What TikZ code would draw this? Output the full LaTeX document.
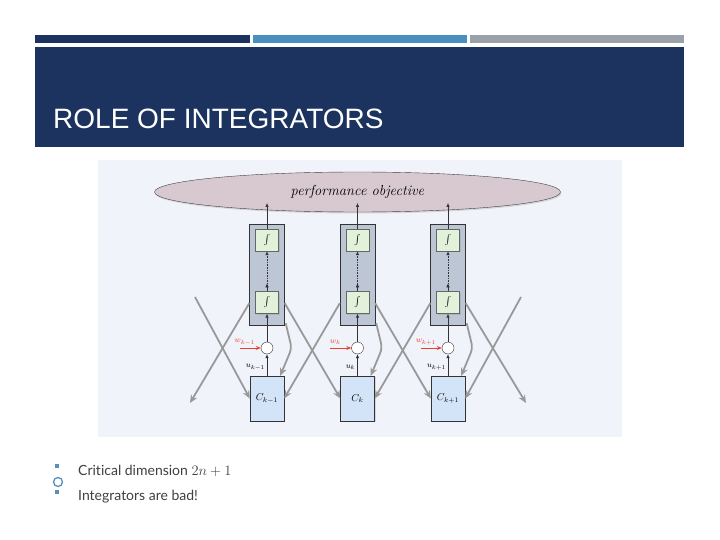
\documentclass[tikz,border=0pt]{standalone}
\usepackage{fontspec}
\newfontfamily\titlefont{Liberation Sans}
\newfontfamily\bodyfont[Ligatures=NoCommon]{Lato}
\usetikzlibrary{shapes.geometric,arrows.meta,positioning,shadows}

\definecolor{navy}{HTML}{1C3360}
\definecolor{barblue}{HTML}{4A8FBF}
\definecolor{bargrey}{HTML}{9BA1A9}
\definecolor{panel}{HTML}{F1F3FB}
\definecolor{perfpink}{HTML}{D8C9D0}
\definecolor{colgrey}{HTML}{BDC6D4}
\definecolor{intgreen}{HTML}{E2F1DA}
\definecolor{ctrlblue}{HTML}{D4E4F8}
\definecolor{linkgrey}{HTML}{999999}
\definecolor{distred}{HTML}{E8402E}
\definecolor{bullet}{HTML}{5A8FBB}
\definecolor{bodytext}{HTML}{404040}

\tikzset{
	colbox/.style={draw=black!80,fill=colgrey,minimum width=35pt,minimum height=101pt,inner sep=0pt},
	intbox/.style={draw=black!60,fill=intgreen,minimum width=23pt,minimum height=22pt,inner sep=0pt,font=\large,
		drop shadow={opacity=0.25,shadow xshift=1pt,shadow yshift=-1pt}},
	sumnode/.style={circle,draw=black!80,fill=white,minimum size=12pt,inner sep=0pt},
	ctrlbox/.style={draw=black!80,fill=ctrlblue,minimum width=34pt,minimum height=45pt,inner sep=0pt,
		drop shadow={opacity=0.25,shadow xshift=1pt,shadow yshift=-1pt}},
	link/.style={draw=linkgrey,line width=1.8pt,-{Stealth[length=8pt,width=7pt]}},
	sig/.style={draw=black!80,line width=0.6pt,-{Latex[length=4pt,width=3.5pt]}},
	dist/.style={draw=distred,line width=0.8pt,-{Stealth[length=5pt,width=4pt]}}
}

\begin{document}
\begin{tikzpicture}[x=1pt,y=-1pt]
	\useasboundingbox (0,0) rectangle (720,540);
	\fill[white] (0,0) rectangle (720,540);
	\fill[navy] (35,35) rectangle (250,43);
	\fill[barblue] (253,35) rectangle (467,43);
	\fill[bargrey] (470,35) rectangle (684,43);
	\fill[navy] (35,47) rectangle (684,147);
	\node[anchor=base west,text=white,inner sep=0pt,font=\titlefont\fontsize{28}{32}\selectfont] (title) at (53,129) {ROLE OF INTEGRATORS};

	\fill[panel] (98,160) rectangle (622,437);
	\node[ellipse,draw=black!75,fill=perfpink,minimum width=406pt,minimum height=40pt,
		drop shadow={opacity=0.25,shadow xshift=1pt,shadow yshift=-1.5pt},
		font=\fontsize{14.5}{16}\selectfont] (perf) at (357.5,192) {\textit{performance objective}};

	\foreach \cx/\i/\k in {267/1/k-1, 357.5/2/k, 448/3/k+1} {
		\node[colbox] (col\i) at (\cx,274.5) {};
		\node[intbox] (it\i) at (\cx,240) {$\int$};
		\node[intbox] (ib\i) at (\cx,302.5) {$\int$};
		\node[sumnode] (sum\i) at (\cx,348) {};
		\node[ctrlbox] (ctrl\i) at (\cx,398.5) {$C_{\k}$};
		\coordinate (po\i) at (\cx,203);
		\coordinate (outL\i) at ([yshift=22pt]col\i.south west);
		\coordinate (outR\i) at ([yshift=22pt]col\i.south east);
		\node[text=distred,font=\footnotesize,inner sep=0pt] (w\i) at ([xshift=-16pt,yshift=6pt]sum\i.west) {$w_{\k}$};
		\node[anchor=east,font=\footnotesize,inner sep=1pt] (u\i) at ([xshift=-1pt,yshift=-13pt]sum\i.south) {$u_{\k}$};
	}

	\coordinate (farL) at (190,403);
	\coordinate (farR) at (526,403);
	\coordinate (inL) at (195,297);
	\coordinate (inR) at (521,297);

	\foreach \i in {1,2,3} {
		\draw[sig] (it\i.north) -- (po\i);
		\draw[sig] (ib\i.north) -- ++(0,-8) coordinate (mid\i);
		\draw[sig,densely dotted] (mid\i) -- (it\i.south);
		\draw[sig] (sum\i.north) -- (ib\i.south);
		\draw[sig] (ctrl\i.north) -- (sum\i.south);
		\draw[dist] ([xshift=-21pt]sum\i.west) -- (sum\i.west);
		\draw[link,rounded corners=5pt] ([xshift=1pt,yshift=2pt]col\i.south east) -- ++(6,25) -- ([xshift=-4pt]ctrl\i.north east);
	}

	\draw[link] (outL1) -- (farL);
	\draw[link] (outL2) -- (ctrl1.east);
	\draw[link] (outL3) -- (ctrl2.east);
	\draw[link] (outR1) -- (ctrl2.west);
	\draw[link] (outR2) -- (ctrl3.west);
	\draw[link] (outR3) -- (farR);
	\draw[link] (inL) -- (ctrl1.west);
	\draw[link] (inR) -- (ctrl3.east);

	\fill[bullet] (55,464) rectangle (59,468);
	\draw[bullet,line width=1.3pt] (58,482) circle[radius=4.5pt];
	\fill[bullet] (55,490) rectangle (59,494);
	\node[anchor=base west,inner sep=0pt,text=bodytext,font=\bodyfont\fontsize{14}{16}\selectfont] (crit) at (78,475) {Critical dimension $2n+1$};
	\node[anchor=base west,inner sep=0pt,text=bodytext,font=\bodyfont\fontsize{14}{16}\selectfont] (bad) at (78,500) {Integrators are bad!};
\end{tikzpicture}
\end{document}
